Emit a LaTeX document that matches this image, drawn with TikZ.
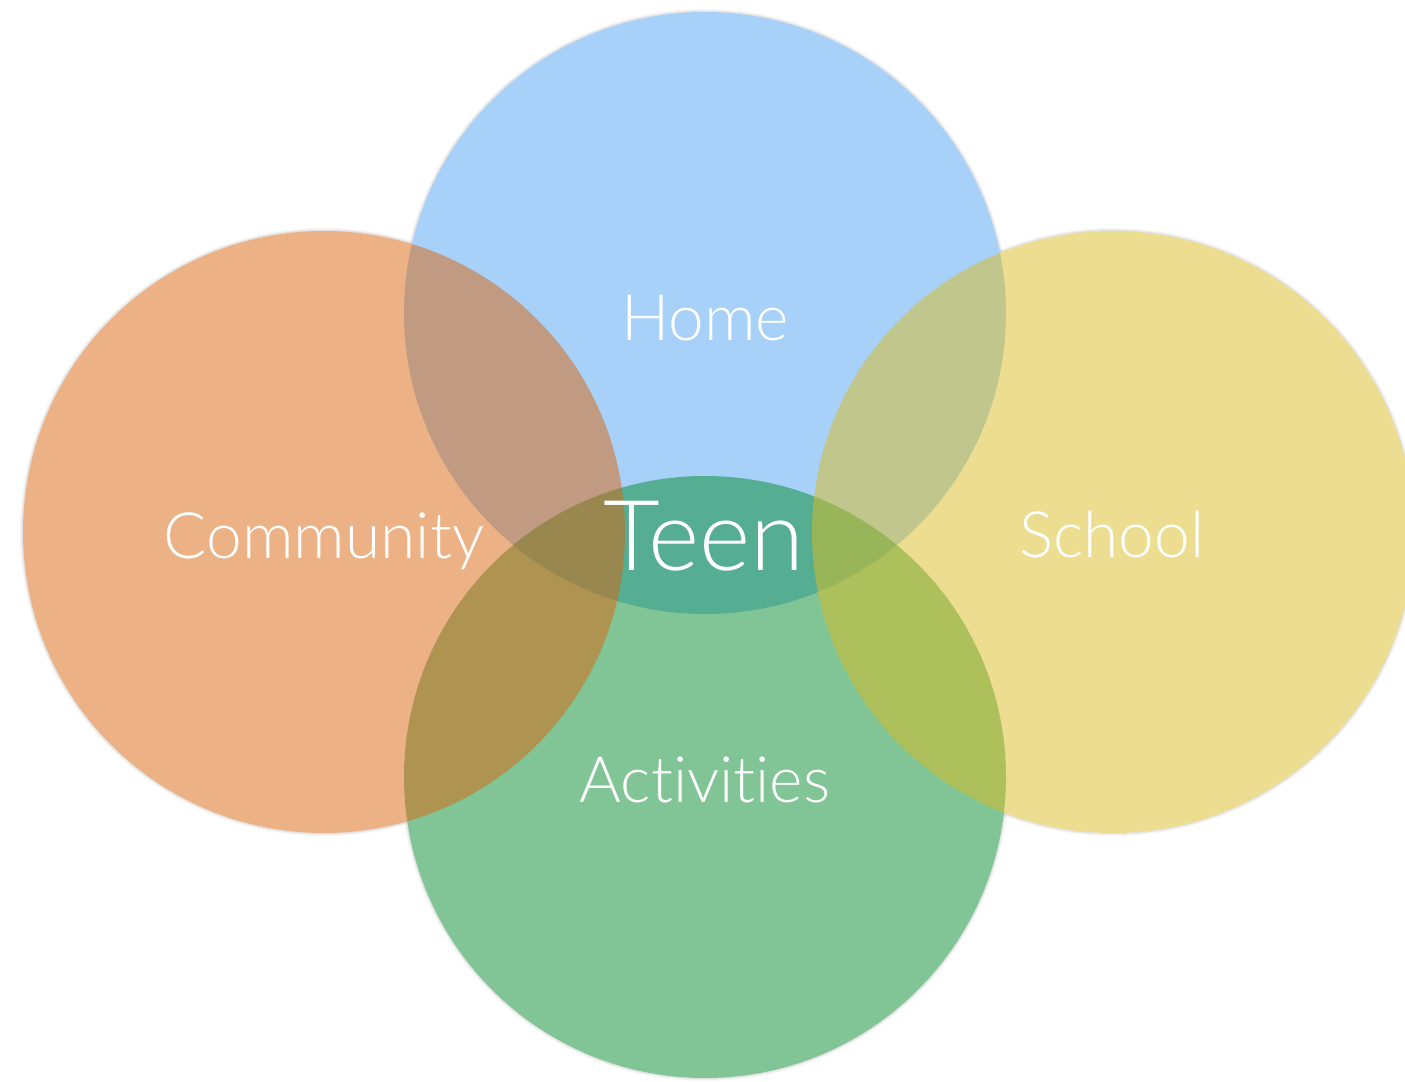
\documentclass[tikz,border=0pt]{standalone}
\usepackage{fontspec}
\newfontfamily\lightfont{Lato Light}[Ligatures={NoCommon,NoRare}]
\begin{document}
\begin{tikzpicture}[x=0.5pt,y=-0.5pt]
  % base colours, laid down at half opacity
  \definecolor{homecol}{RGB}{81,165,245}
  \definecolor{actcol}{RGB}{5,139,45}
  \definecolor{commcol}{RGB}{219,101,13}
  \definecolor{schoolcol}{RGB}{219,189,35}
  \tikzset{
    bubble/.style={circle, draw=none, inner sep=0pt, minimum size=301pt, fill opacity=0.5},
    tag/.style={text=white, anchor=base, inner sep=0pt, font=\lightfont\fontsize{32}{32}\selectfont},
    bigtag/.style={tag, font=\lightfont\fontsize{49}{49}\selectfont}
  }
  \useasboundingbox (0,0) rectangle (1405,1082);

  \coordinate (pHome)   at (705,313);
  \coordinate (pAct)    at (705,777);
  \coordinate (pComm)   at (324,532);
  \coordinate (pSchool) at (1113,532);

  % soft drop shadows, falling downwards
  \foreach \c in {pHome,pAct,pComm,pSchool}{
    \foreach \d/\o in {3/0.03,2/0.04,1/0.05,0/0.06}{
      \fill[black, opacity=\o, shift={(0,4)}] (\c) circle [radius=150.5pt+\d*0.5pt];
    }
  }
  % opaque white base so the shadows stay outside the discs
  \foreach \c in {pHome,pAct,pComm,pSchool}{
    \fill[white] (\c) circle [radius=150.5pt];
  }

  % translucent discs, bottom to top
  \node[bubble, fill=homecol]   (home)   at (pHome)   {};
  \node[bubble, fill=actcol]    (act)    at (pAct)    {};
  \node[bubble, fill=commcol]   (comm)   at (pComm)   {};
  \node[bubble, fill=schoolcol] (school) at (pSchool) {};

  % labels
  \node[tag]    (lHome)   at (705,340)  {Home};
  \node[tag]    (lComm)   at (324,558)  {Community};
  \node[tag]    (lSchool) at (1112,557) {School};
  \node[tag]    (lAct)    at (705,802)  {Activities};
  \node[bigtag] (lTeen)   at (704,570)  {Teen};
\end{tikzpicture}
\end{document}
